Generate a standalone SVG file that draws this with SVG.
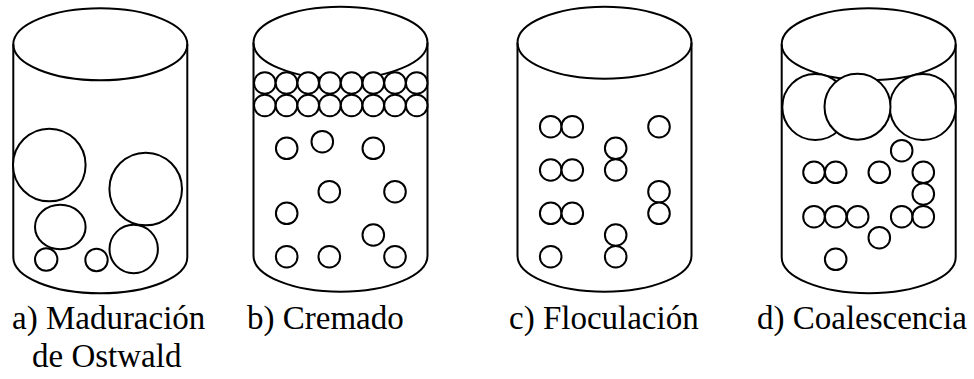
<svg xmlns="http://www.w3.org/2000/svg" width="974" height="379" viewBox="0 0 974 379">
  <style>
    .ln { fill: none; stroke: #000; stroke-width: 2; }
    .dr { fill: #fff; stroke: #000; stroke-width: 2; }
    text { font-family: 'Liberation Serif', 'Times New Roman', Times, Tinos, 'DejaVu Serif', serif; font-size: 33px; fill: #000; }
  </style>
  <defs>
    <!-- open cylinder: top rim ellipse and body with curved base -->
    <g id="cyl">
      <ellipse class="ln" cx="0" cy="0" rx="87" ry="36"/>
      <path class="ln" d="M -87 0 V 213 A 87 36 0 0 0 87 213 V 0"/>
    </g>
    <circle id="s" r="10.8" class="dr"/>
  </defs>
  <rect width="974" height="379" fill="#fff"/>

  <!-- a) Ostwald ripening -->
  <g id="ostwald">
    <use href="#cyl" x="100.3" y="44.3"/>
    <circle class="dr" cx="49.3" cy="165" r="36.3"/>
    <circle class="dr" cx="145.7" cy="189" r="36.3"/>
    <ellipse class="dr" cx="60.3" cy="227" rx="25.3" ry="22.2"/>
    <circle class="dr" cx="133.7" cy="249" r="24.2"/>
    <circle class="dr" cx="46.2" cy="259.5" r="11.2"/>
    <circle class="dr" cx="96.5" cy="260" r="11.2"/>
  </g>

  <!-- b) creaming -->
  <g id="cremado">
    <use href="#cyl" x="340.5" y="42.7"/>
    <g id="cream-layer">
      <use href="#s" x="264.8" y="83"/>
      <use href="#s" x="286.5" y="83"/>
      <use href="#s" x="308.2" y="83"/>
      <use href="#s" x="329.9" y="83"/>
      <use href="#s" x="351.6" y="83"/>
      <use href="#s" x="373.3" y="83"/>
      <use href="#s" x="395" y="83"/>
      <use href="#s" x="416.7" y="83"/>
      <use href="#s" x="264.8" y="105.5"/>
      <use href="#s" x="286.5" y="105.5"/>
      <use href="#s" x="308.2" y="105.5"/>
      <use href="#s" x="329.9" y="105.5"/>
      <use href="#s" x="351.6" y="105.5"/>
      <use href="#s" x="373.3" y="105.5"/>
      <use href="#s" x="395" y="105.5"/>
      <use href="#s" x="416.7" y="105.5"/>
    </g>
    <use href="#s" x="286.7" y="148.3"/>
    <use href="#s" x="322.3" y="141.7"/>
    <use href="#s" x="373.3" y="148.3"/>
    <use href="#s" x="329.3" y="191.7"/>
    <use href="#s" x="395" y="191.7"/>
    <use href="#s" x="286.7" y="213.3"/>
    <use href="#s" x="373.3" y="235"/>
    <use href="#s" x="286.7" y="256.7"/>
    <use href="#s" x="329.3" y="256.7"/>
    <use href="#s" x="395" y="256.7"/>
  </g>

  <!-- c) flocculation -->
  <g id="floculacion">
    <use href="#cyl" x="604.5" y="42.7"/>
    <use href="#s" x="550.7" y="126.7"/>
    <use href="#s" x="572.3" y="126.7"/>
    <use href="#s" x="550.7" y="170"/>
    <use href="#s" x="572.3" y="170"/>
    <use href="#s" x="550.7" y="213.3"/>
    <use href="#s" x="572.3" y="213.3"/>
    <use href="#s" x="550.7" y="256.7"/>
    <use href="#s" x="615.7" y="148.3"/>
    <use href="#s" x="615.7" y="170"/>
    <use href="#s" x="615.7" y="235"/>
    <use href="#s" x="615.7" y="256.7"/>
    <use href="#s" x="659" y="126.7"/>
    <use href="#s" x="659" y="191.7"/>
    <use href="#s" x="659" y="213.3"/>
  </g>

  <!-- d) coalescence -->
  <g id="coalescencia">
    <use href="#cyl" x="868.7" y="44.2"/>
    <circle class="dr" cx="815.3" cy="107" r="33"/>
    <circle class="dr" cx="922.8" cy="107" r="33"/>
    <circle class="dr" cx="857.5" cy="106.7" r="33"/>
    <use href="#s" x="901.7" y="150.7"/>
    <use href="#s" x="814" y="172.3"/>
    <use href="#s" x="835.7" y="172.3"/>
    <use href="#s" x="879.3" y="172.3"/>
    <use href="#s" x="923.3" y="172.3"/>
    <use href="#s" x="923.3" y="194"/>
    <use href="#s" x="814" y="216.7"/>
    <use href="#s" x="835.7" y="216.7"/>
    <use href="#s" x="857.7" y="216.7"/>
    <use href="#s" x="901.7" y="216.7"/>
    <use href="#s" x="923.3" y="216.7"/>
    <use href="#s" x="879.3" y="237.7"/>
    <use href="#s" x="835.7" y="259.3"/>
  </g>

  <!-- captions -->
  <g id="labels">
    <text x="12" y="329">a) Maduración</text>
    <text x="32" y="367">de Ostwald</text>
    <text x="247" y="329">b) Cremado</text>
    <text x="509" y="329">c) Floculación</text>
    <text x="757" y="329">d) Coalescencia</text>
  </g>
</svg>
